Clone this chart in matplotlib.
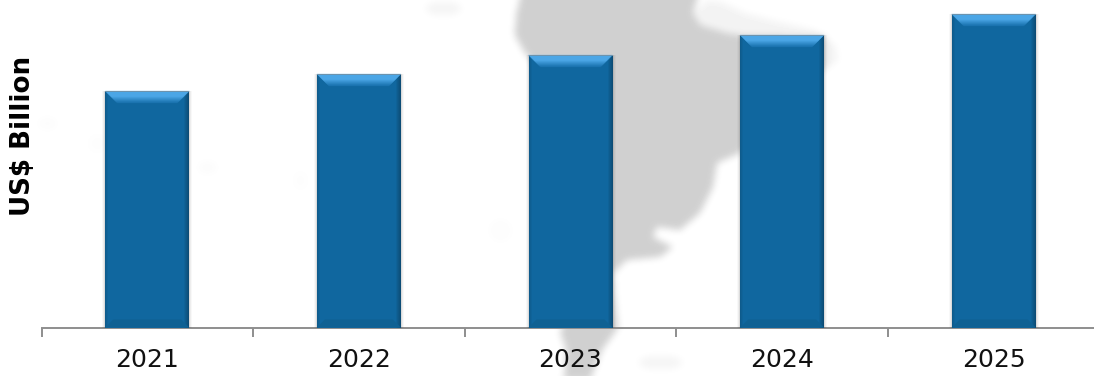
import numpy as np
import matplotlib
matplotlib.use('Agg')
from matplotlib import pyplot as plt
from matplotlib.path import Path
from matplotlib.patches import Polygon, Rectangle

years = ['2021', '2022', '2023', '2024', '2025']
values = [2.365, 2.535, 2.725, 2.925, 3.135]

# background map, in picture pixels (x, y from top)
map_main = [(522, -10), (516, 15), (515, 35), (523, 50), (535, 65), (560, 150), (580, 230), (575, 300), (560, 332),
            (566, 350), (564, 380), (590, 380), (602, 350), (618, 328), (614, 290), (613, 273), (627, 260), (660, 257),
            (673, 247), (653, 237), (657, 227), (680, 230), (700, 213), (713, 187), (717, 163), (740, 153), (780, 110),
            (825, 68), (825, 36), (740, 35), (727, 33), (700, 25), (693, 13), (700, -10)]
map_light = [(693, 13), (708, 0), (722, 2), (745, 13), (780, 22), (815, 30), (835, 45), (838, 60), (828, 68), (800, 50),
             (727, 33), (700, 25)]
map_spots = [(660, 362, 22, 7, 0.22), (443, 8, 18, 7, 0.22), (47, 123, 10, 7, 0.07), (97, 143, 10, 10, 0.05),
             (207, 167, 10, 7, 0.08), (300, 180, 8, 10, 0.05), (500, 230, 12, 12, 0.06)]
map_gray = 0.815

W, H = 1094, 376
fig = plt.figure(figsize=(W / 100, H / 100), dpi=100, facecolor='white')


def blur(a, n, passes=3):
    k = np.ones(n) / n
    for _ in range(passes):
        a = np.apply_along_axis(lambda r: np.convolve(r, k, mode='same'), 0, a)
        a = np.apply_along_axis(lambda r: np.convolve(r, k, mode='same'), 1, a)
    return a


# rasterise the map with some padding so the blur has no edge effect
pad = 20
yy, xx = np.mgrid[-pad:H + pad, -pad:W + pad]
pts = np.column_stack([xx.ravel() + 0.5, yy.ravel() + 0.5])
cover = Path(map_main).contains_points(pts).reshape(xx.shape).astype(float)
cover = np.maximum(cover, 0.25 * Path(map_light).contains_points(pts).reshape(xx.shape))
for sx, sy, rx, ry, a in map_spots:
    d = ((xx - sx) / rx) ** 2 + ((yy - sy) / ry) ** 2
    cover = np.maximum(cover, a * (d < 1))
cover = blur(cover, 7)[pad:-pad, pad:-pad]
bg = 1 - (1 - map_gray) * cover

ax_bg = fig.add_axes([0, 0, 1, 1])
ax_bg.imshow(bg, cmap='gray', vmin=0, vmax=1, aspect='auto', interpolation='nearest')
ax_bg.axis('off')

# axes run a little past the right edge of the picture
px_x = 211.6
px_y = 100.0
ax = fig.add_axes([41.5 / W, (H - 327.5) / H, 5 * px_x / W, 327.5 / H])
ax.patch.set_alpha(0)
ax.set_xlim(-0.5, 4.5)
ax.set_ylim(0, 3.275)

bar_w = 84 / px_x
x = np.arange(len(years))

# soft shadow
for grow, al in [(3, 0.03), (2, 0.05), (1, 0.09)]:
    for i, v in zip(x, values):
        ax.add_patch(Rectangle((i - bar_w / 2 - grow / px_x, -grow / px_y), bar_w + 2 * grow / px_x,
                               v + grow / px_y, fc='#303030', ec='none', alpha=al, zorder=2))

ax.bar(x, values, width=bar_w, color='#10679f', edgecolor='none', zorder=3)

top = np.array([[0x4b, 0xa6, 0xe6], [0x1b, 0x74, 0xb0]]) / 255
base = np.array([0x10, 0x67, 0x9f]) / 255
for i, v in zip(x, values):
    l, r = i - bar_w / 2, i + bar_w / 2
    # side and bottom bevels
    for k in range(5):
        col = base * (1 - 0.26 * (1 - k / 5))
        ax.add_patch(Rectangle((r - (k + 1) / px_x, 0), 1 / px_x, v, fc=col, ec='none', zorder=4))
    for k in range(3):
        col = base * (1 - 0.12 * (1 - k / 3))
        ax.add_patch(Rectangle((l + k / px_x, 0), 1 / px_x, v, fc=col, ec='none', zorder=4))
    ax.add_patch(Polygon([(l, 0), (r, 0), (r - 8 / px_x, 8 / px_y), (l + 8 / px_x, 8 / px_y)],
                         fc='#0f6193', ec='none', zorder=4))
    # top bevel, light blue for a few pixels and then fading down
    n = 12
    for k in range(n):
        t = max(0, (k - 5) / (n - 6))
        col = top[0] * (1 - t) + top[1] * t
        y1, y2 = v - k / px_y, v - (k + 1) / px_y
        ax.add_patch(Polygon([(l + k / px_x, y1), (r - k / px_x, y1), (r - (k + 1) / px_x, y2),
                              (l + (k + 1) / px_x, y2)], fc=col, ec=col, lw=0.2, zorder=5))
    ax.add_patch(Rectangle((l, v - 1 / px_y), bar_w, 1.2 / px_y, fc='#6d93ad', ec='none', zorder=6))

for s in ['top', 'right', 'left']:
    ax.spines[s].set_visible(False)
ax.spines['bottom'].set_color('#8e8e8e')
ax.spines['bottom'].set_linewidth(1.4)
ax.spines['bottom'].set_zorder(1)
ax.set_yticks([])
ax.set_xticks(x)
ax.set_xticklabels(years, fontsize=18, color='#111111')
ax.tick_params(axis='x', which='major', length=0, pad=14.5)
ax.set_xticks(np.arange(-0.5, 5), minor=True)
ax.tick_params(axis='x', which='minor', length=6.5, width=1.4, color='#8e8e8e')
ax.set_ylabel('US$ Billion', fontsize=18.8, fontweight='bold', color='black')
ax.yaxis.set_label_coords(-5 / (5 * px_x), 0.585)

fig.savefig('out.png', dpi=100)
